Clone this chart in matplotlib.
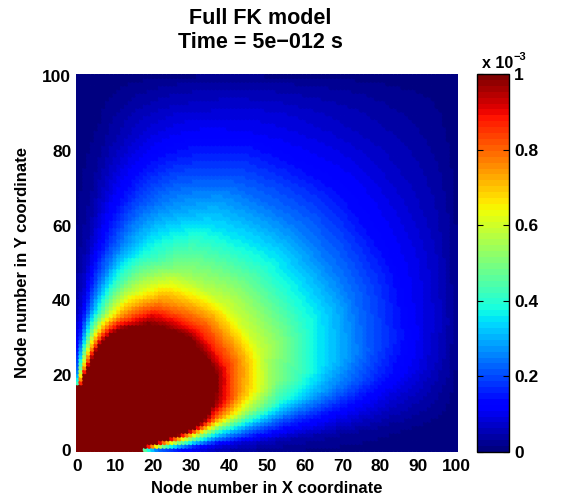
import numpy as np
import matplotlib
matplotlib.use("Agg")
import matplotlib.pyplot as plt

# ---------------- data ----------------
X_NODES = np.arange(0, 101)          # node numbers in X
Y_NODES = np.arange(0, 101)          # node numbers in Y
ORIGIN_X, ORIGIN_Y = -2.0, -2.0      # apparent centre of the corner source

RADIUS = [0, 15, 20, 25, 30, 35, 40, 48, 58, 72, 86, 100, 115, 130, 145]
RADIAL_LEVEL = [8.0, 5.5, 4.0, 2.8, 2.2, 1.65, 1.2, 0.88, 0.6, 0.4, 0.25, 0.14, 0.075, 0.035, 0.015]

# angular gain (0 deg = along X axis, 90 deg = along Y axis)
ANGLE_DEG = [0, 5, 10, 15, 20, 30, 45, 60, 70, 75, 80, 85, 90]
ANGLE_GAIN = [0.0, 0.08, 0.33, 0.65, 0.84, 0.99, 1.0, 0.87, 0.64, 0.48, 0.28, 0.08, 0.0]

# damping near the far (right / top) boundaries, vs distance in nodes
EDGE_DIST = [0, 2, 5, 10, 20, 30]
EDGE_GAIN = [0.25, 0.5, 0.7, 0.85, 0.95, 1.0]

SOURCE_NODES = 17                     # saturated nodes along x=0 and y=0
SCALE = 1e-3

CBAR_TICKS = [0, 0.2, 0.4, 0.6, 0.8, 1.0]
CBAR_LABELS = ["0", "0.2", "0.4", "0.6", "0.8", "1"]
AX_TICKS = [0, 10, 20, 30, 40, 50, 60, 70, 80, 90, 100]
AY_TICKS = [0, 20, 40, 60, 80, 100]

TITLE_LINES = ["Full FK model", "Time = 5e\u2212012 s"]
XLABEL = "Node number in X coordinate"
YLABEL = "Node number in Y coordinate"

# ---------------- build field ----------------
xx, yy = np.meshgrid(X_NODES, Y_NODES, indexing="ij")
px = xx - ORIGIN_X
py = yy - ORIGIN_Y
r = np.hypot(px, py)
th = np.degrees(np.arctan2(py, px))
field = (np.interp(r, RADIUS, RADIAL_LEVEL)
         * np.interp(th, ANGLE_DEG, ANGLE_GAIN)
         * np.interp(X_NODES.max() - xx, EDGE_DIST, EDGE_GAIN)
         * np.interp(Y_NODES.max() - yy, EDGE_DIST, EDGE_GAIN))
src = ((xx == 0) & (yy <= SOURCE_NODES)) | ((yy == 0) & (xx <= SOURCE_NODES))
field[src] = max(RADIAL_LEVEL)
field = field * SCALE

# ---------------- plotting ----------------
plt.rcParams["font.family"] = ["Liberation Sans", "DejaVu Sans"]
plt.rcParams["font.weight"] = "bold"

W, H = 565, 500
fig = plt.figure(figsize=(W / 100, H / 100), dpi=100)

def fx(p):
    return p / W

def fy(p):
    return 1 - p / H

ax_l, ax_r, ax_t, ax_b = 75.5, 458.0, 74.0, 452.0
ax = fig.add_axes([fx(ax_l), fy(ax_b), fx(ax_r - ax_l), (ax_b - ax_t) / H])

cmap = plt.get_cmap("jet", 64)
sc = ax.scatter(xx.ravel(), yy.ravel(), c=field.ravel(), cmap=cmap,
                vmin=0, vmax=1e-3, s=17, marker="o", linewidths=0)
ax.set_xlim(-0.5, 100.5)
ax.set_ylim(-0.6, 100.6)
for s in ax.spines.values():
    s.set_visible(False)
ax.set_xticks(AX_TICKS)
ax.set_yticks(AY_TICKS)
ax.tick_params(axis="x", length=0, labelsize=12.5, pad=5)
ax.tick_params(axis="y", length=0, labelsize=12.5, pad=3)
for lab in ax.get_xticklabels() + ax.get_yticklabels():
    lab.set_fontweight("bold")
ax.set_xlabel(XLABEL, fontsize=12, fontweight="bold", labelpad=5)
ax.set_ylabel(YLABEL, fontsize=12, fontweight="bold", labelpad=9)

# title
fig.text(fx(260), fy(18), TITLE_LINES[0], ha="center", va="center",
         fontsize=15.5, fontweight="bold")
fig.text(fx(260), fy(43), TITLE_LINES[1], ha="center", va="center",
         fontsize=15.5, fontweight="bold")

# colorbar
cb_l, cb_r = 477.3, 508.7
cax = fig.add_axes([fx(cb_l), fy(ax_b), fx(cb_r - cb_l), (ax_b - ax_t) / H])
cb = fig.colorbar(sc, cax=cax)
cb.set_ticks([t * SCALE for t in CBAR_TICKS])
cb.set_ticklabels(CBAR_LABELS)
cb.outline.set_linewidth(1.0)
cax.tick_params(axis="y", direction="in", length=4, width=0.8, labelsize=12.5,
                left=True, right=True, pad=4)
for lab in cax.get_yticklabels():
    lab.set_fontweight("bold")
cax.yaxis.offsetText.set_visible(False)

fig.text(fx(482), fy(68), "x 10", ha="left", va="baseline", fontsize=11.5,
         fontweight="bold")
fig.text(fx(513.5), fy(60), "\u22123", ha="left", va="baseline", fontsize=8,
         fontweight="bold")

fig.savefig("out.png", dpi=100)
